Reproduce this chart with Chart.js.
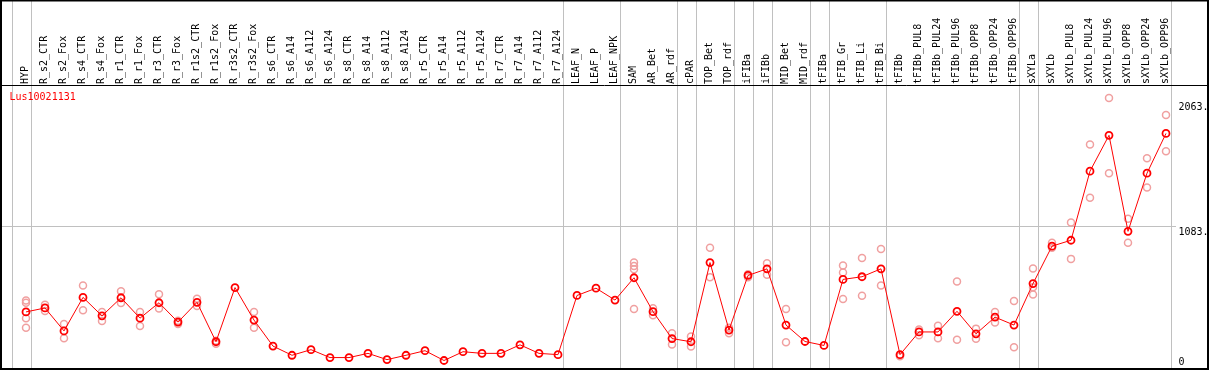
<!DOCTYPE html>
<html>
<head>
    <meta charset="utf-8">
    <title>Lus10021131</title>
    <script src="https://cdn.jsdelivr.net/npm/chart.js@4/dist/chart.umd.min.js"></script>
    <style>
        body { margin: 0; background: #fff; }
        canvas { display: block; }
    </style>
</head>
<body>
    <canvas id="canvas" width="1209" height="370"></canvas>
    <script>
        const geneName = 'Lus10021131';

        const categories = ['HYP', 'R_s2_CTR', 'R_s2_Fox', 'R_s4_CTR', 'R_s4_Fox', 'R_r1_CTR', 'R_r1_Fox',
            'R_r3_CTR', 'R_r3_Fox', 'R_r1s2_CTR', 'R_r1s2_Fox', 'R_r3s2_CTR', 'R_r3s2_Fox',
            'R_s6_CTR', 'R_s6_A14', 'R_s6_A112', 'R_s6_A124', 'R_s8_CTR', 'R_s8_A14', 'R_s8_A112', 'R_s8_A124',
            'R_r5_CTR', 'R_r5_A14', 'R_r5_A112', 'R_r5_A124', 'R_r7_CTR', 'R_r7_A14', 'R_r7_A112', 'R_r7_A124',
            'LEAF_N', 'LEAF_P', 'LEAF_NPK', 'SAM', 'AR_Bet', 'AR_rdf', 'cPAR', 'TOP_Bet', 'TOP_rdf',
            'iFIBa', 'iFIBb', 'MID_Bet', 'MID_rdf', 'tFIBa', 'tFIB_Gr', 'tFIB_Li', 'tFIB_Bi',
            'tFIBb', 'tFIBb_PUL8', 'tFIBb_PUL24', 'tFIBb_PUL96', 'tFIBb_OPP8', 'tFIBb_OPP24', 'tFIBb_OPP96',
            'sXYLa', 'sXYLb', 'sXYLb_PUL8', 'sXYLb_PUL24', 'sXYLb_PUL96', 'sXYLb_OPP8', 'sXYLb_OPP24', 'sXYLb_OPP96'];

        // mean expression (the joined line)
        const meanVals = [410, 441, 261, 524, 379, 521, 361, 482, 330, 485, 176, 601, 346,
            142, 70, 114, 52, 52, 85, 36, 70, 106, 29, 98, 85, 85, 152, 85, 75,
            539, 596, 503, 678, 412, 201, 176, 797, 268, 696, 748, 307, 178, 147, 665, 686, 748,
            75, 253, 253, 415, 238, 369, 307, 632, 926, 972, 1514, 1795, 1042, 1498, 1810];

        // replicates (light circles), null where there is none
        const rep1 = [500, 467, 315, 617, 410, 573, 410, 549, 340, 513, 183, null, 410,
            null, null, null, null, null, null, null, null, null, null, null, null, null, null, null, null,
            null, null, null, 797, 438, 242, 217, 913, 286, 706, 792, 433, null, null, 774, 833, 903,
            62, 273, 302, 648, 279, 410, 495, 750, 952, 1112, 1723, 2087, 1140, 1615, 1955];
        const rep2 = [482, 418, 204, 423, 338, 480, 299, 436, 315, 456, 160, null, 286,
            null, null, null, null, null, null, null, null, null, null, null, null, null, null, null, null,
            null, null, null, 771, 384, 155, 139, 681, 242, 681, 702, 173, null, null, 720, 536, 617,
            null, 227, 204, 191, 199, 327, 132, 603, 913, 826, 1305, 1498, 952, 1385, 1671];
        const rep3 = [360, null, null, null, null, null, null, null, null, null, null, null, null,
            null, null, null, null, null, null, null, null, null, null, null, null, null, null, null, null,
            null, null, null, 745, null, null, null, null, null, null, null, null, null, null, 511, null, null,
            null, null, null, null, null, null, null, 547, null, null, null, null, null, null, null];
        const rep4 = [286, null, null, null, null, null, null, null, null, null, null, null, null,
            null, null, null, null, null, null, null, null, null, null, null, null, null, null, null, null,
            null, null, null, 433, null, null, null, null, null, null, null, null, null, null, null, null, null,
            null, null, null, null, null, null, null, null, null, null, null, null, null, null, null];

        const yMax = 2174;
        const yTicks = [0, 1083, 2063];
        const yTickLabels = ['0', '1083.', '2063.'];
        // group separators are drawn after these category indexes
        const groupEnds = [-1, 0, 28, 31, 34, 35, 37, 38, 39, 41, 42, 45, 52, 53, 60];

        const FONT = '10px "DejaVu Sans Mono", monospace';

        const frame = {
            id: 'frame',
            beforeDatasetsDraw(chart) {
                const ctx = chart.ctx;
                const xs = chart.scales.x;
                const ys = chart.scales.y;
                ctx.save();
                ctx.strokeStyle = '#c0c0c0';
                ctx.lineWidth = 1;
                groupEnds.forEach(function (i) {
                    const x = Math.round(xs.getPixelForValue(i) + 4.7) + 0.5;
                    ctx.beginPath();
                    ctx.moveTo(x, 0);
                    ctx.lineTo(x, chart.height);
                    ctx.stroke();
                });
                const gy = Math.round(ys.getPixelForValue(1083)) + 0.5;
                ctx.beginPath();
                ctx.moveTo(0, gy);
                ctx.lineTo(1176, gy);
                ctx.stroke();
                ctx.restore();
            },
            afterDraw(chart) {
                const ctx = chart.ctx;
                const xs = chart.scales.x;
                const ys = chart.scales.y;
                ctx.save();
                ctx.strokeStyle = '#000';
                ctx.lineWidth = 1;
                ctx.beginPath();
                ctx.moveTo(0, 85.5);
                ctx.lineTo(chart.width, 85.5);
                ctx.stroke();
                ctx.lineWidth = 2;
                ctx.strokeRect(1, 0.5, chart.width - 2, chart.height - 1.5);

                ctx.font = FONT;
                ctx.fillStyle = '#000';
                categories.forEach(function (c, i) {
                    ctx.save();
                    ctx.translate(xs.getPixelForValue(i) - 0.5, 84);
                    ctx.rotate(-Math.PI / 2);
                    ctx.textAlign = 'left';
                    ctx.textBaseline = 'middle';
                    ctx.fillText(c, 0, 0);
                    ctx.restore();
                });

                ctx.textAlign = 'left';
                ctx.textBaseline = 'top';
                yTicks.forEach(function (v, k) {
                    const y = Math.min(ys.getPixelForValue(v) + 1, 357);
                    ctx.fillText(yTickLabels[k], 1178.5, y);
                });

                ctx.fillStyle = '#ff0000';
                ctx.textBaseline = 'middle';
                ctx.fillText(geneName, 9.5, 97.5);
                ctx.restore();
            }
        };

        function repSet(vals) {
            return {
                data: vals,
                showLine: false,
                pointRadius: 3.5,
                pointBorderWidth: 1.5,
                pointBorderColor: '#f0a0a0',
                pointBackgroundColor: 'rgba(0,0,0,0)',
                clip: false
            };
        }

        new Chart(document.getElementById('canvas'), {
            type: 'line',
            data: {
                labels: categories,
                datasets: [{
                    data: meanVals,
                    borderColor: '#ff0000',
                    borderWidth: 1,
                    pointRadius: 3.5,
                    pointBorderWidth: 1.8,
                    pointBorderColor: '#ff0000',
                    pointBackgroundColor: 'rgba(0,0,0,0)',
                    tension: 0,
                    clip: false
                }, repSet(rep1), repSet(rep2), repSet(rep3), repSet(rep4)]
            },
            options: {
                responsive: false,
                animation: false,
                layout: { padding: { left: 16.5, right: 33.5, top: 87, bottom: 2 } },
                scales: {
                    x: { type: 'category', offset: true, display: false },
                    y: { min: 0, max: yMax, display: false }
                },
                plugins: { legend: { display: false }, tooltip: { enabled: false } }
            },
            plugins: [frame]
        });
    </script>
</body>
</html>
